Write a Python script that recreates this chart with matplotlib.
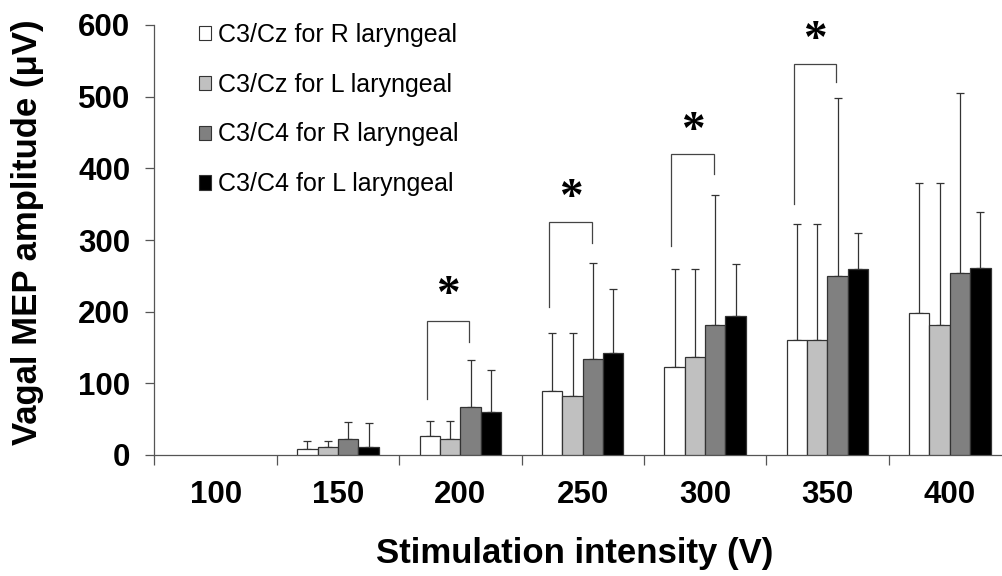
import matplotlib
matplotlib.use("Agg")
import matplotlib.pyplot as plt
import numpy as np
from matplotlib.patches import Patch

plt.rcParams['font.family'] = ['Liberation Sans', 'DejaVu Sans']

# ---- data ----
intensities = ['100', '150', '200', '250', '300', '350', '400']
series_labels = ['C3/Cz for R laryngeal', 'C3/Cz for L laryngeal',
                 'C3/C4 for R laryngeal', 'C3/C4 for L laryngeal']
cz_r = [0, 9, 27, 90, 123, 161, 198]
cz_l = [0, 11.6, 22, 82, 137, 161, 182]
c4_r = [0, 23, 66.5, 134, 182, 250, 253.5]
c4_l = [0, 11.6, 59.5, 143, 194, 260, 261]
cz_r_sd = [0, 11, 21, 80, 137, 162, 182]
cz_l_sd = [0, 8.4, 26, 88, 123, 162, 198]
c4_r_sd = [0, 23.5, 66, 134, 181, 248, 251.5]
c4_l_sd = [0, 33.4, 59, 88, 72, 50, 78]
# significance brackets: category index, left bottom, top, right bottom, star y
sig_groups = [2, 3, 4, 5]
sig_left = [77.6, 206.5, 292, 350]
sig_top = [187.4, 324.7, 419.6, 545]
sig_right = [158, 296, 391.6, 520]
sig_star = [234, 370, 463, 590]

colors = ['#ffffff', '#c0c0c0', '#808080', '#000000']
means = [cz_r, cz_l, c4_r, c4_l]
sds = [cz_r_sd, cz_l_sd, c4_r_sd, c4_l_sd]

W, H = 1003, 576
fig = plt.figure(figsize=(W / 100, H / 100), dpi=100)
ax_left, ax_right, ax_top, ax_bot = 154.5, 1011, 25, 455
ax = fig.add_axes([ax_left / W, 1 - ax_bot / H, (ax_right - ax_left) / W, (ax_bot - ax_top) / H])

x = np.arange(len(intensities))
bw = 0.1665
offsets = [-1.5 * bw, -0.5 * bw, 0.5 * bw, 1.5 * bw]
spine_col = '#555555'

for m, s, c, off, lab in zip(means, sds, colors, offsets, series_labels):
    m = np.array(m, float)
    s = np.array(s, float)
    lws = [0.9 if v > 0 else 0 for v in m]
    ax.bar(x + off, m, width=bw, color=c, edgecolor='#333333', linewidth=lws, zorder=3, label=lab)
    mask = m > 0
    ax.errorbar(x[mask] + off, m[mask], yerr=[np.zeros(mask.sum()), s[mask]],
                fmt='none', ecolor='#333333', elinewidth=0.9, capsize=2.6, capthick=0.9, zorder=2)

# brackets and stars
for g, yl, yt, yr, ys in zip(sig_groups, sig_left, sig_top, sig_right, sig_star):
    xl = g + offsets[0] - 0.025
    xr = g + offsets[2] - 0.01
    ax.plot([xl, xl, xr, xr], [yl, yt, yt, yr], color='#444444', lw=0.9, zorder=4,
            solid_joinstyle='miter')
    ax.annotate('*', xy=((xl + xr) / 2, ys), xytext=(0, -6.5), textcoords='offset points',
                ha='center', va='center', fontsize=34, fontweight='bold',
                family='Liberation Serif', color='black', annotation_clip=False)

ax.set_xlim(-0.5, 6.5)
ax.set_ylim(0, 600)
ax.set_yticks(np.arange(0, 601, 100))
ax.tick_params(axis='y', direction='out', length=6.5, width=0.9, color=spine_col, pad=11,
               labelsize=22.5)
for t in ax.get_yticklabels():
    t.set_fontweight('bold')

ax.set_xticks(np.arange(-0.5, 7, 1))
ax.set_xticklabels([])
ax.set_xticks(x, minor=True)
ax.set_xticklabels(intensities, minor=True, fontsize=22.5, fontweight='bold')
ax.tick_params(axis='x', which='major', direction='out', length=7, width=0.9, color=spine_col)
ax.tick_params(axis='x', which='minor', length=0, pad=18)

for sp in ['top', 'right']:
    ax.spines[sp].set_visible(False)
for sp in ['left', 'bottom']:
    ax.spines[sp].set_color(spine_col)
    ax.spines[sp].set_linewidth(0.9)

fig.text(575 / W, 1 - 553 / H, 'Stimulation intensity (V)', ha='center', va='center',
         fontsize=25, fontweight='bold')
fig.text(28 / W, 1 - 232 / H, 'Vagal MEP amplitude (\u03bcV)', ha='center', va='center',
         rotation=90, fontsize=25, fontweight='bold')

handles = [Patch(facecolor=c, edgecolor='#333333', linewidth=0.8) for c in colors]
leg = ax.legend(handles, series_labels, loc='upper left',
                bbox_to_anchor=((199 - ax_left) / (ax_right - ax_left), (ax_bot - 23) / (ax_bot - ax_top)),
                frameon=False, fontsize=18, handlelength=0.5, handleheight=0.5,
                handletextpad=0.25, labelspacing=1.03, borderpad=0, borderaxespad=0)

fig.savefig('out.png', dpi=100)
